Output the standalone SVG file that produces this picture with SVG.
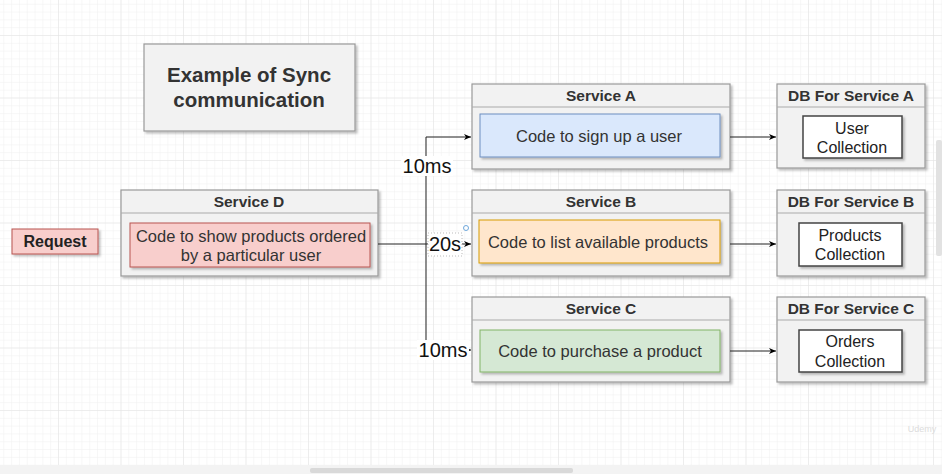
<svg xmlns="http://www.w3.org/2000/svg" width="942" height="474" viewBox="0 0 942 474">
<defs>
<pattern id="gmin" x="-4.5" y="-27.5" width="7.8125" height="7.8125" patternUnits="userSpaceOnUse">
<path d="M0 0H7.8125M0 0V7.8125" fill="none" stroke="#f0f0f0" stroke-width="1"/>
</pattern>
<pattern id="gmaj" x="-4.5" y="-27.5" width="62.5" height="62.5" patternUnits="userSpaceOnUse">
<path d="M0 0H62.5M0 0V62.5" fill="none" stroke="#e4e4e4" stroke-width="1"/>
</pattern>
<filter id="sh" x="-10%" y="-10%" width="130%" height="130%">
<feDropShadow dx="2" dy="2" stdDeviation="1" flood-color="#000" flood-opacity="0.25"/>
</filter>
<marker id="ah" markerWidth="8" markerHeight="8" refX="7" refY="4" orient="auto" markerUnits="userSpaceOnUse">
<path d="M0 1 L7 4 L0 7 L2 4 Z" fill="#000"/>
</marker>
</defs>
<style>
text{font-family:"Liberation Sans",Arial,sans-serif;fill:#333;}
.outer{fill:#f2f2f2;stroke:#999;stroke-width:1.2;filter:url(#sh);}
.hdr{stroke:#aaa;stroke-width:1;}
.h{font-size:15.5px;font-weight:bold;text-anchor:middle;}
.b{font-size:16.5px;text-anchor:middle;}
.c{font-size:16px;text-anchor:middle;fill:#222;}
.lbl{font-size:20px;text-anchor:middle;fill:#111;}
.conn{fill:none;stroke:#222;stroke-width:1;}
.db{fill:#fff;stroke:#444;stroke-width:1.5;filter:url(#sh);}
</style>
<rect width="942" height="474" fill="#fff"/>
<rect width="942" height="466" fill="url(#gmin)"/>
<rect width="942" height="466" fill="url(#gmaj)"/>
<rect x="0" y="465" width="942" height="9" fill="#f3f3f3"/>
<rect x="310" y="468" width="263" height="5" rx="2" fill="#d9d9d9"/>
<rect x="936" y="140" width="6" height="116" rx="2" fill="#e2e2e2"/>
<text x="922" y="432" font-size="9" text-anchor="middle" style="fill:#dcdcdc">Udemy</text>

<g id="title">
<rect class="outer" x="144" y="44" width="211" height="87"/>
<text x="249" y="82" font-size="20.5" font-weight="bold" text-anchor="middle">Example of Sync</text>
<text x="249" y="107" font-size="20.5" font-weight="bold" text-anchor="middle">communication</text>
</g>

<g id="request">
<rect x="12" y="229" width="86" height="25" fill="#f8cecc" stroke="#b85450" stroke-width="1" filter="url(#sh)"/>
<text x="55" y="247" font-size="16" font-weight="bold" text-anchor="middle" style="fill:#222">Request</text>
</g>

<g id="serviceD">
<rect class="outer" x="121" y="190" width="257" height="86"/>
<line class="hdr" x1="121" y1="213" x2="378" y2="213"/>
<text class="h" x="249" y="207">Service D</text>
<rect x="130" y="223" width="240" height="44" fill="#f8cecc" stroke="#b85450" stroke-width="1" filter="url(#sh)"/>
<text class="b" x="251" y="242">Code to show products ordered</text>
<text class="b" x="251" y="261">by a particular user</text>
</g>

<g id="serviceA">
<rect class="outer" x="472" y="84" width="258" height="85"/>
<line class="hdr" x1="472" y1="107" x2="730" y2="107"/>
<text class="h" x="601" y="101">Service A</text>
<rect x="480" y="114" width="240" height="43" fill="#dae8fc" stroke="#6c8ebf" stroke-width="1" filter="url(#sh)"/>
<text class="b" x="599" y="142">Code to sign up a user</text>
</g>

<g id="serviceB">
<rect class="outer" x="472" y="190" width="258" height="86"/>
<line class="hdr" x1="472" y1="213" x2="730" y2="213"/>
<text class="h" x="601" y="207">Service B</text>
<rect x="479" y="220" width="241" height="43" fill="#ffe6cc" stroke="#d79b00" stroke-width="1" filter="url(#sh)"/>
<text class="b" x="598" y="248">Code to list available products</text>
</g>

<g id="serviceC">
<rect class="outer" x="472" y="297" width="258" height="85"/>
<line class="hdr" x1="472" y1="320" x2="730" y2="320"/>
<text class="h" x="601" y="314">Service C</text>
<rect x="480" y="330" width="240" height="42" fill="#d5e8d4" stroke="#82b366" stroke-width="1" filter="url(#sh)"/>
<text class="b" x="600" y="357">Code to purchase a product</text>
</g>

<g id="dbA">
<rect class="outer" x="777" y="84" width="148" height="84"/>
<line class="hdr" x1="777" y1="107" x2="925" y2="107"/>
<text class="h" x="851" y="101">DB For Service A</text>
<rect class="db" x="803" y="116" width="99" height="42"/>
<text class="c" x="852" y="134">User</text>
<text class="c" x="852" y="153">Collection</text>
</g>

<g id="dbB">
<rect class="outer" x="777" y="190" width="148" height="86"/>
<line class="hdr" x1="777" y1="213" x2="925" y2="213"/>
<text class="h" x="851" y="207">DB For Service B</text>
<rect class="db" x="799" y="223" width="103" height="43"/>
<text class="c" x="850" y="241">Products</text>
<text class="c" x="850" y="260">Collection</text>
</g>

<g id="dbC">
<rect class="outer" x="777" y="297" width="148" height="85"/>
<line class="hdr" x1="777" y1="320" x2="925" y2="320"/>
<text class="h" x="851" y="314">DB For Service C</text>
<rect class="db" x="799" y="330" width="103" height="42"/>
<text class="c" x="850" y="347">Orders</text>
<text class="c" x="850" y="367">Collection</text>
</g>

<g id="connectors">
<path class="conn" d="M378 244 H426 V137 H471" marker-end="url(#ah)"/>
<path class="conn" d="M426 244 V350 H471" marker-end="url(#ah)"/>
<path class="conn" d="M426 244 H471" marker-end="url(#ah)"/>
<path class="conn" d="M730 137 H776" marker-end="url(#ah)"/>
<path class="conn" d="M730 244 H776" marker-end="url(#ah)"/>
<path class="conn" d="M730 351 H776" marker-end="url(#ah)"/>
<rect x="401" y="156" width="52" height="20" fill="#fff"/>
<text class="lbl" x="427" y="173">10ms</text>
<rect x="428" y="233" width="34" height="23" fill="#fff" stroke="#bbb" stroke-dasharray="1 2"/>
<text class="lbl" x="445" y="251">20s</text>
<circle cx="466" cy="228" r="2.5" fill="none" stroke="#6fa8dc" stroke-width="1"/>
<rect x="417" y="340" width="52" height="20" fill="#fff"/>
<text class="lbl" x="443" y="357">10ms</text>
</g>
</svg>
